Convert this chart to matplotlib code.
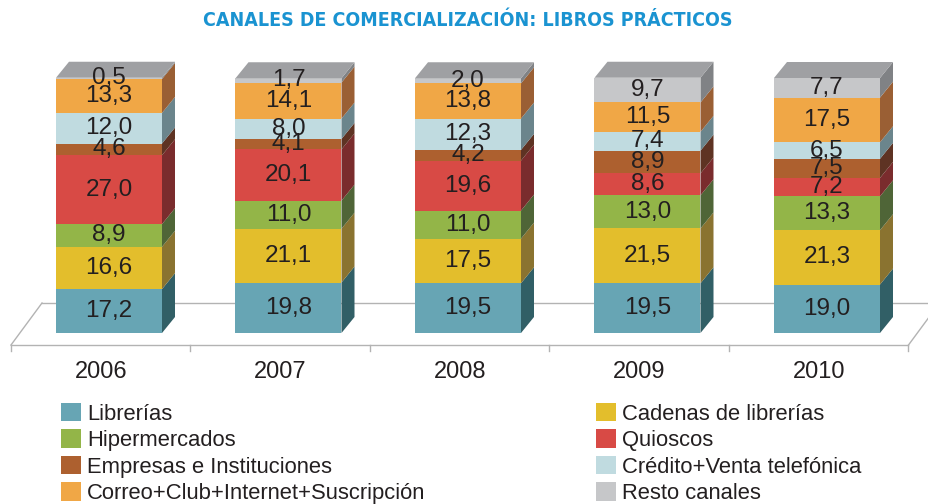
import matplotlib
matplotlib.use("Agg")
import matplotlib.pyplot as plt
from matplotlib import font_manager as fm
from matplotlib.patches import Polygon, Patch

years = ["2006", "2007", "2008", "2009", "2010"]
channels = [
    "Librerías", "Cadenas de librerías", "Hipermercados", "Quioscos",
    "Empresas e Instituciones", "Crédito+Venta telefónica",
    "Correo+Club+Internet+Suscripción", "Resto canales",
]
librerias = [17.2, 19.8, 19.5, 19.5, 19.0]
cadenas = [16.6, 21.1, 17.5, 21.5, 21.3]
hipermercados = [8.9, 11.0, 11.0, 13.0, 13.3]
quioscos = [27.0, 20.1, 19.6, 8.6, 7.2]
empresas = [4.6, 4.1, 4.2, 8.9, 7.5]
credito = [12.0, 8.0, 12.3, 7.4, 6.5]
correo = [13.3, 14.1, 13.8, 11.5, 17.5]
resto = [0.5, 1.7, 2.0, 9.7, 7.7]
series = [librerias, cadenas, hipermercados, quioscos, empresas, credito, correo, resto]

front_colors = ["#67a5b4", "#e3be2c", "#93b548", "#d84a45",
                "#ad602f", "#c0dbe0", "#f0a746", "#c6c7c9"]
side_colors = ["#315f66", "#8a7330", "#4f6537", "#7a2c2d",
               "#5e3323", "#6b858c", "#9a5f34", "#808285"]
top_color = "#9fa0a3"
text_color = "#231f20"

plt.rcParams["font.family"] = ["Liberation Sans", "DejaVu Sans"]

# look for a narrow bold face for the heading
title_font = None
for f in fm.fontManager.ttflist:
    low = f.fname.lower()
    if ("condensed" in low or "narrow" in low) and f.weight in ("bold", 700):
        title_font = fm.FontProperties(fname=f.fname)
        break

fig = plt.figure(figsize=(9.29, 5.04), dpi=100)
ax = fig.add_axes([0, 0, 1, 1])
# one x unit per category slot, one y unit per percentage point
px_x = 179.5
px_y = 2.55
ax.set_xlim(-109 / px_x, (929 - 109) / px_x)
ax.set_ylim((333 - 504) / px_y, 333 / px_y)
ax.axis("off")

W = 106 / px_x          # front face width
DX = 13 / px_x          # depth offset (x)
DY = 16 / px_y          # depth offset (y)

# floor plane
floor_c = "#b3b3b3"
fl_front = (333 - 345) / px_y
fl_back = (333 - 303) / px_y
x_left = -0.546
x_right = x_left + len(years)
slope = (42 - 11) / px_x
ax.plot([x_left, x_right], [fl_front, fl_front], color=floor_c, lw=1.0, zorder=1)
ax.plot([x_left + slope, x_right + slope], [fl_back, fl_back], color=floor_c, lw=1.0, zorder=1)
ax.plot([x_left, x_left + slope], [fl_front, fl_back], color=floor_c, lw=1.0, zorder=1)
ax.plot([x_right, x_right + slope], [fl_front, fl_back], color=floor_c, lw=1.0, zorder=1)
for k in range(len(years) + 1):
    xk = x_left + k
    ax.plot([xk, xk], [fl_front, fl_front - 6 / px_y], color=floor_c, lw=1.0, zorder=1)

# stacked 3D bars
xs = list(range(len(years)))
bottoms = [0.0] * len(years)
for s, vals in enumerate(series):
    ax.bar(xs, vals, width=W, bottom=bottoms, color=front_colors[s],
           linewidth=0, zorder=3)
    for i, v in enumerate(vals):
        xr = xs[i] + W / 2
        b = bottoms[i]
        side = Polygon([(xr, b), (xr + DX, b + DY), (xr + DX, b + v + DY), (xr, b + v)],
                       closed=True, facecolor=side_colors[s], edgecolor="none", zorder=2)
        ax.add_patch(side)
        ax.text(xs[i], b + v / 2, f"{v:.1f}".replace(".", ","), ha="center",
                va="center", fontsize=17.5, color=text_color, zorder=5)
    bottoms = [b + v for b, v in zip(bottoms, vals)]

for i, tot in enumerate(bottoms):
    xl = xs[i] - W / 2
    xr = xs[i] + W / 2
    top = Polygon([(xl, tot), (xr, tot), (xr + DX, tot + DY), (xl + DX, tot + DY)],
                  closed=True, facecolor=top_color, edgecolor="none", zorder=4)
    ax.add_patch(top)

# category labels
for i, y in enumerate(years):
    ax.text(x_left + i + 0.5, (333 - 372) / px_y, y, ha="center", va="center",
            fontsize=17, color=text_color)

# title
title_kw = dict(ha="center", va="center", color="#1a93d1")
if title_font is not None:
    title_font.set_size(14.0)
    fig.text(0.503, 1 - 21 / 504, "CANALES DE COMERCIALIZACIÓN: LIBROS PRÁCTICOS",
             fontproperties=title_font, **title_kw)
else:
    fig.text(0.503, 1 - 21 / 504, "CANALES DE COMERCIALIZACIÓN: LIBROS PRÁCTICOS",
             fontsize=12.5, fontweight="bold", **title_kw)

# legend
handles = [Patch(facecolor=c, edgecolor="none") for c in front_colors]
order = [0, 2, 4, 6, 1, 3, 5, 7]
leg = fig.legend([handles[k] for k in order], [channels[k] for k in order],
                 ncol=2, loc="upper left", bbox_to_anchor=(61 / 929, 1 - 403 / 504),
                 frameon=False, fontsize=15.8, handlelength=0.92, handleheight=0.92,
                 handletextpad=0.28, labelspacing=0.21, columnspacing=7.75,
                 borderaxespad=0, borderpad=0, labelcolor=text_color)

fig.savefig("out.png", dpi=100)
